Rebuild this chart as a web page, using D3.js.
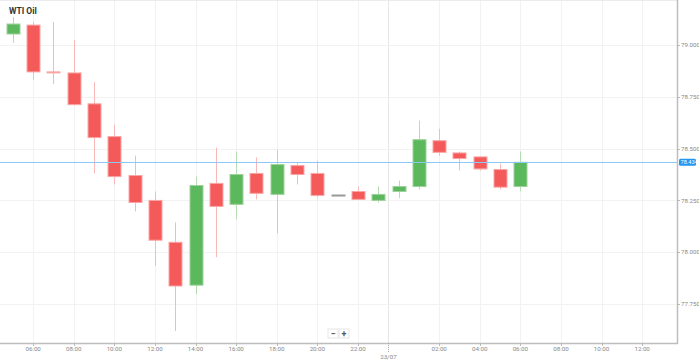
<!DOCTYPE html>
<html>
<head>
<meta charset="utf-8">
<script src="https://cdn.jsdelivr.net/npm/d3@7"></script>
<style>
  body { margin: 0; background: #fff; font-family: Roboto, "Open Sans", sans-serif; }
  #chart { width: 699px; height: 362px; }
</style>
</head>
<body>
<div id="chart"></div>
<script>
// hourly candles, 22/07 05:00 -> 23/07 06:00
var times = ["2024-07-22T05:00", "2024-07-22T06:00", "2024-07-22T07:00", "2024-07-22T08:00",
    "2024-07-22T09:00", "2024-07-22T10:00", "2024-07-22T11:00", "2024-07-22T12:00",
    "2024-07-22T13:00", "2024-07-22T14:00", "2024-07-22T15:00", "2024-07-22T16:00",
    "2024-07-22T17:00", "2024-07-22T18:00", "2024-07-22T19:00", "2024-07-22T20:00",
    "2024-07-22T21:00", "2024-07-22T22:00", "2024-07-22T23:00", "2024-07-23T00:00",
    "2024-07-23T01:00", "2024-07-23T02:00", "2024-07-23T03:00", "2024-07-23T04:00",
    "2024-07-23T05:00", "2024-07-23T06:00"];
var open  = [79.053, 79.096, 78.870, 78.865, 78.716, 78.558, 78.370, 78.250, 78.048, 77.841, 78.332, 78.231, 78.380,
             78.279, 78.418, 78.380, 78.276, 78.293, 78.250, 78.293, 78.317, 78.538, 78.479, 78.460, 78.399, 78.317];
var high  = [79.135, 79.111, 79.111, 79.024, 78.822, 78.615, 78.466, 78.293, 78.144, 78.365, 78.505, 78.486, 78.457,
             78.495, 78.433, 78.442, 78.276, 78.317, 78.317, 78.346, 78.635, 78.596, 78.486, 78.460, 78.428, 78.486];
var low   = [79.010, 78.832, 78.812, 78.712, 78.380, 78.327, 78.197, 77.933, 77.620, 77.798, 77.976, 78.159, 78.255,
             78.091, 78.327, 78.264, 78.276, 78.255, 78.240, 78.260, 78.303, 78.466, 78.394, 78.394, 78.303, 78.294];
var close = [79.101, 78.870, 78.866, 78.712, 78.553, 78.365, 78.240, 78.058, 77.837, 78.322, 78.221, 78.375, 78.284,
             78.423, 78.375, 78.274, 78.276, 78.255, 78.279, 78.317, 78.543, 78.482, 78.452, 78.402, 78.314, 78.434];
var yTicks = [77.75, 78.0, 78.25, 78.5, 78.75, 79.0];
var xTickLabels = ["2024-07-22T06:00", "2024-07-22T08:00", "2024-07-22T10:00", "2024-07-22T12:00",
    "2024-07-22T14:00", "2024-07-22T16:00", "2024-07-22T18:00", "2024-07-22T20:00", "2024-07-22T22:00",
    "2024-07-23T02:00", "2024-07-23T04:00", "2024-07-23T06:00", "2024-07-23T08:00", "2024-07-23T10:00",
    "2024-07-23T12:00"];
var dayBreak = "2024-07-22T23:30", dayLabel = "23/07";
var lastPrice = 78.434;

var W = 699, H = 362,
    plotW = 677, plotH = 343;

var parse = d3.timeParse("%Y-%m-%dT%H:%M");
var data = times.map(function (t, i) {
    return { t: parse(t), o: open[i], h: high[i], l: low[i], c: close[i] };
});
var xTicks = xTickLabels.map(parse);

var x = d3.scaleTime()
    .domain([parse("2024-07-22T04:22"), parse("2024-07-23T13:43")])
    .range([0, plotW]);

var y = d3.scaleLinear()
    .domain([77.562, 79.217])
    .range([plotH, 0]);

var svg = d3.select("#chart").append("svg")
    .attr("width", W)
    .attr("height", H)
    .style("font-family", "Roboto, sans-serif");

function px(v) { return Math.round(v) + .5; }

// grid
svg.append("g").selectAll("line")
    .data(xTicks)
    .enter().append("line")
    .attr("x1", function (d) { return px(x(d)); })
    .attr("x2", function (d) { return px(x(d)); })
    .attr("y1", 0).attr("y2", plotH)
    .attr("stroke", "#f2f2f2");

svg.append("line")
    .attr("x1", px(x(parse(dayBreak)))).attr("x2", px(x(parse(dayBreak))))
    .attr("y1", 0).attr("y2", plotH)
    .attr("stroke", "#e6e6e6");

svg.append("g").selectAll("line")
    .data(yTicks)
    .enter().append("line")
    .attr("x1", 0).attr("x2", plotW)
    .attr("y1", function (d) { return px(y(d)); })
    .attr("y2", function (d) { return px(y(d)); })
    .attr("stroke", "#f2f2f2");

svg.append("line")
    .attr("x1", 0).attr("x2", plotW)
    .attr("y1", .5).attr("y2", .5)
    .attr("stroke", "#ececec");

// candles
var step = x(parse("2024-07-22T06:00")) - x(parse("2024-07-22T05:00")),
    bw = Math.round(step * .64);

function col(d) { return d.c > d.o ? "#5cb85c" : (d.c < d.o ? "#f55a5a" : "#999"); }
function wickCol(d) { return d.c > d.o ? "#b5dcb2" : (d.c < d.o ? "#f9b9b9" : "#bbb"); }
function edgeCol(d) { return d.c > d.o ? "#9fd19c" : (d.c < d.o ? "#f9a5a5" : "#999"); }

var candles = svg.append("g").selectAll("g")
    .data(data)
    .enter().append("g");

candles.append("line")
    .attr("x1", function (d) { return px(x(d.t)); })
    .attr("x2", function (d) { return px(x(d.t)); })
    .attr("y1", function (d) { return y(d.h); })
    .attr("y2", function (d) { return y(d.l); })
    .attr("stroke", wickCol)
    .attr("stroke-width", 1);

candles.append("rect")
    .attr("x", function (d) { return Math.round(x(d.t)) - bw / 2 + .5; })
    .attr("width", bw)
    .attr("y", function (d) { return y(Math.max(d.o, d.c)); })
    .attr("height", function (d) { return Math.max(1, Math.abs(y(d.o) - y(d.c))); })
    .attr("fill", col)
    .attr("stroke", edgeCol)
    .attr("stroke-width", 1);

// current price line
svg.append("line")
    .attr("x1", 0).attr("x2", plotW)
    .attr("y1", px(y(lastPrice)))
    .attr("y2", px(y(lastPrice)))
    .attr("stroke", "#8cc8f5")
    .attr("stroke-width", 1);

// axes
svg.append("line")
    .attr("x1", 0).attr("x2", plotW + 1)
    .attr("y1", plotH + .5).attr("y2", plotH + .5)
    .attr("stroke", "#bdbdbd").attr("stroke-width", 1.5);

svg.append("line")
    .attr("x1", plotW + .5).attr("x2", plotW + .5)
    .attr("y1", 0).attr("y2", plotH + 1)
    .attr("stroke", "#bdbdbd").attr("stroke-width", 1.5);

// y labels
var yl = svg.append("g");
yl.selectAll("line")
    .data(yTicks)
    .enter().append("line")
    .attr("x1", plotW).attr("x2", plotW + 3)
    .attr("y1", function (d) { return px(y(d)); })
    .attr("y2", function (d) { return px(y(d)); })
    .attr("stroke", "#bbb");
yl.selectAll("text")
    .data(yTicks)
    .enter().append("text")
    .attr("x", plotW + 4)
    .attr("y", function (d) { return y(d) + 2.2; })
    .attr("font-size", 6.2)
    .attr("fill", "#888")
    .text(d3.format(".3f"));

// price tag
var py = y(lastPrice);
svg.append("rect")
    .attr("x", plotW + 2).attr("y", py - 3.5)
    .attr("width", 17).attr("height", 7)
    .attr("rx", 1.5)
    .attr("fill", "#2196f3");
svg.append("text")
    .attr("x", plotW + 3.5).attr("y", py + 2)
    .attr("font-size", 5.6)
    .attr("fill", "#fff")
    .text(d3.format(".3f")(lastPrice));

// x labels
var xl = svg.append("g");
xl.selectAll("line")
    .data(xTicks)
    .enter().append("line")
    .attr("x1", function (d) { return px(x(d)); })
    .attr("x2", function (d) { return px(x(d)); })
    .attr("y1", plotH)
    .attr("y2", plotH + 3)
    .attr("stroke", "#bbb");
xl.selectAll("text")
    .data(xTicks)
    .enter().append("text")
    .attr("x", function (d) { return x(d); })
    .attr("y", plotH + 8)
    .attr("text-anchor", "middle")
    .attr("font-size", 6.2)
    .attr("fill", "#888")
    .text(d3.timeFormat("%H:%M"));

xl.append("line")
    .attr("x1", px(x(parse(dayBreak)))).attr("x2", px(x(parse(dayBreak))))
    .attr("y1", plotH).attr("y2", plotH + 10)
    .attr("stroke", "#aaa")
    .attr("stroke-dasharray", "1,1");
xl.append("text")
    .attr("x", x(parse(dayBreak)))
    .attr("y", plotH + 16)
    .attr("text-anchor", "middle")
    .attr("font-size", 6.2)
    .attr("fill", "#888")
    .text(dayLabel);

// zoom buttons
var zb = svg.append("g").attr("transform", "translate(328,329)");
["\u2212", "+"].forEach(function (s, i) {
    zb.append("rect")
        .attr("x", i * 11).attr("y", 0)
        .attr("width", 10).attr("height", 9)
        .attr("fill", "#fff")
        .attr("stroke", "#e6e6e6");
    zb.append("text")
        .attr("x", i * 11 + 5).attr("y", 7.5)
        .attr("text-anchor", "middle")
        .attr("font-size", 9)
        .attr("font-weight", "bold")
        .attr("fill", "#555")
        .text(s);
});

// title
svg.append("text")
    .attr("x", 9).attr("y", 14)
    .attr("font-size", 8.5)
    .attr("font-weight", "bold")
    .attr("fill", "#333")
    .text("WTI Oil");
</script>
</body>
</html>
